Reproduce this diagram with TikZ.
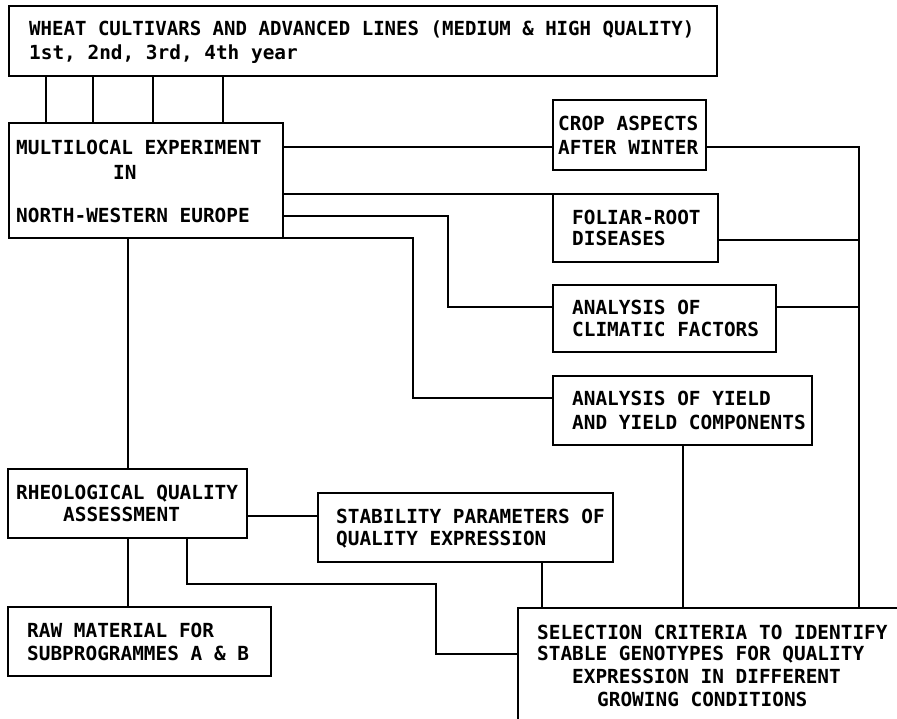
\documentclass[tikz,border=0pt]{standalone}
\usepackage{fontspec}
\newfontfamily\chartfont{DejaVu Sans Mono Bold}
\newfontfamily\chartfontnarrow[FakeStretch=0.982]{DejaVu Sans Mono Bold}

\begin{document}
\begin{tikzpicture}[x=1pt,y=-1pt,
  box/.style={draw, line width=1.8pt, inner sep=0pt, outer sep=0pt, anchor=north west},
  lbl/.style={anchor=base west, inner sep=0pt, font=\chartfont\fontsize{19.4}{20}\selectfont},
  lblnarrow/.style={lbl, font=\chartfontnarrow\fontsize{19.4}{20}\selectfont},
  link/.style={line width=1.8pt, line join=miter}]

\useasboundingbox (0,0) rectangle (897,718);
\clip (0,0) rectangle (897,718);
\fill[white] (0,0) rectangle (897,718);

% boxes
\node[box, minimum width=708pt, minimum height=70pt]  (top)    at (9,6)    {};
\node[box, minimum width=274pt, minimum height=115pt] (multi)  at (9,123)  {};
\node[box, minimum width=153pt, minimum height=70pt]  (crop)   at (553,100) {};
\node[box, minimum width=165pt, minimum height=68pt]  (foliar) at (553,194) {};
\node[box, minimum width=223pt, minimum height=67pt]  (clim)   at (553,285) {};
\node[box, minimum width=259pt, minimum height=69pt]  (yield)  at (553,376) {};
\node[box, minimum width=239pt, minimum height=69pt]  (rheo)   at (8,469)  {};
\node[box, minimum width=295pt, minimum height=69pt]  (stab)   at (318,493) {};
\node[box, minimum width=263pt, minimum height=69pt]  (raw)    at (8,607)  {};
\node[box, minimum width=420pt, minimum height=160pt] (sel)    at (518,608) {};

% labels
\node[lblnarrow] (top-a) at (29,35) {WHEAT CULTIVARS AND ADVANCED LINES (MEDIUM \& HIGH QUALITY)};
\node[lbl] (top-b) at (29,59) {1st, 2nd, 3rd, 4th year};

\node[lbl] (multi-a) at (16,154) {MULTILOCAL EXPERIMENT};
\node[lbl] (multi-b) at (113,179) {IN};
\node[lbl] (multi-c) at (16,222) {NORTH-WESTERN EUROPE};

\node[lbl] (crop-a) at (558,130) {CROP ASPECTS};
\node[lbl] (crop-b) at (558,154) {AFTER WINTER};

\node[lbl] (foliar-a) at (572,224) {FOLIAR-ROOT};
\node[lbl] (foliar-b) at (572,245) {DISEASES};

\node[lbl] (clim-a) at (572,314) {ANALYSIS OF};
\node[lbl] (clim-b) at (572,336) {CLIMATIC FACTORS};

\node[lbl] (yield-a) at (572,405) {ANALYSIS OF YIELD};
\node[lbl] (yield-b) at (572,429) {AND YIELD COMPONENTS};

\node[lbl] (rheo-a) at (16,499) {RHEOLOGICAL QUALITY};
\node[lbl] (rheo-b) at (63,521) {ASSESSMENT};

\node[lbl] (stab-a) at (336,523) {STABILITY PARAMETERS OF};
\node[lbl] (stab-b) at (336,545) {QUALITY EXPRESSION};

\node[lbl] (raw-a) at (27,637) {RAW MATERIAL FOR};
\node[lbl] (raw-b) at (27,660) {SUBPROGRAMMES A \& B};

\node[lbl] (sel-a) at (537,639) {SELECTION CRITERIA TO IDENTIFY};
\node[lbl] (sel-b) at (537,660) {STABLE GENOTYPES FOR QUALITY};
\node[lbl] (sel-c) at (572,683) {EXPRESSION IN DIFFERENT};
\node[lbl] (sel-d) at (597,706) {GROWING CONDITIONS};

% collecting line on the right
\coordinate (bus) at (859,147);

% connectors
\foreach \xx in {46,93,153,223}
  \draw[link] (\xx,0 |- top.south) -- (\xx,0 |- multi.north);

\draw[link] (multi.east |- bus) -- (crop.west |- bus);
\draw[link] (crop.east |- bus) -- (bus) -- (bus |- sel.north);

\draw[link] (multi.east |- foliar.north) -- (foliar.north west);
\draw[link] (foliar.east |- 0,240) -- (bus |- 0,240);

\draw[link] (multi.east |- 0,216) -- (448,216) -- (448,307) -- (clim.west |- 0,307);
\draw[link] (clim.east |- 0,307) -- (bus |- 0,307);

\draw[link] (multi.south east) -- (413,238) -- (413,398) -- (yield.west |- 0,398);
\draw[link] (683,0 |- yield.south) -- (683,0 |- sel.north);

\draw[link] (128,0 |- multi.south) -- (128,0 |- rheo.north);
\draw[link] (rheo.east |- 0,516) -- (stab.west |- 0,516);
\draw[link] (128,0 |- rheo.south) -- (128,0 |- raw.north);
\draw[link] (187,0 |- rheo.south) -- (187,584) -- (436,584) -- (436,654) -- (sel.west |- 0,654);
\draw[link] (542,0 |- stab.south) -- (542,0 |- sel.north);

\end{tikzpicture}
\end{document}
